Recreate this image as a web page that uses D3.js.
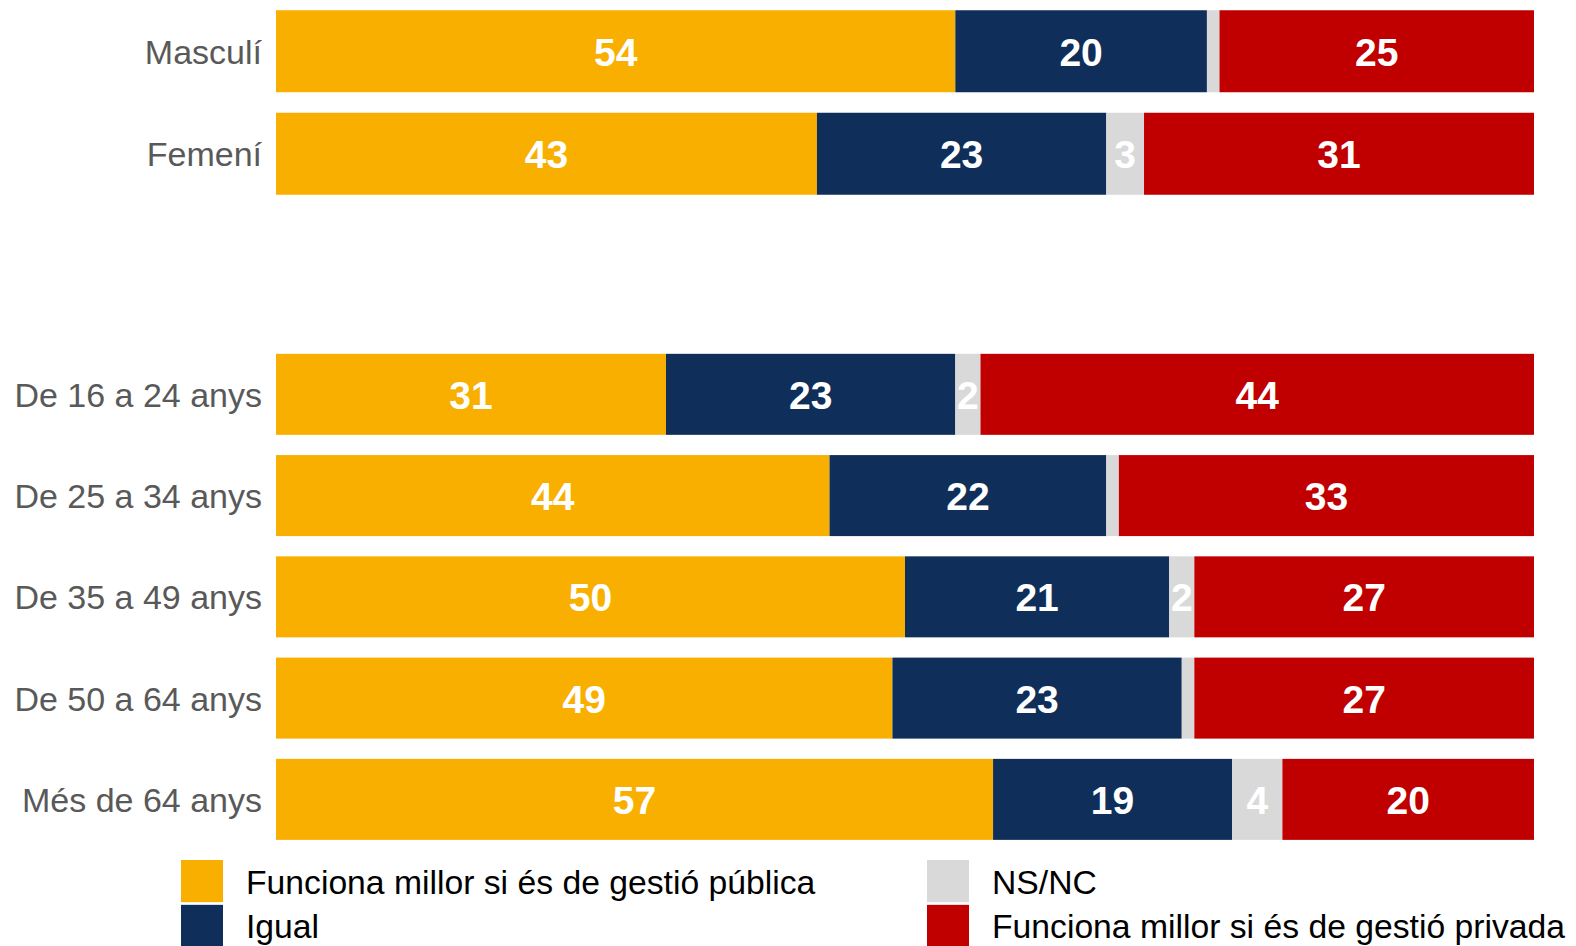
<!DOCTYPE html>
<html>
<head>
<meta charset="utf-8">
<script src="https://cdn.jsdelivr.net/npm/d3@7"></script>
<style>
  html, body { margin: 0; padding: 0; background: #fff; }
  svg { display: block; font-family: "Liberation Sans", Arial, sans-serif; }
</style>
</head>
<body>
<svg id="chart" width="1576" height="946"></svg>
<script>
// Categories (two groups: sex, age)
const genderCats = ["Masculí", "Femení"];
const ageCats = ["De 16 a 24 anys", "De 25 a 34 anys", "De 35 a 49 anys", "De 50 a 64 anys", "Més de 64 anys"];

// Series names (legend order)
const seriesNames = [
  "Funciona millor si és de gestió pública",
  "Igual",
  "NS/NC",
  "Funciona millor si és de gestió privada"
];

// Percentages, in the order: Masculí, Femení, then the age groups
const publica = [54, 43, 31, 44, 50, 49, 57];
const igual   = [20, 23, 23, 22, 21, 23, 19];
const nsnc    = [1, 3, 2, 1, 2, 1, 4];
const privada = [25, 31, 44, 33, 27, 27, 20];

const seriesColors = ["#F9AF00", "#0F2F5A", "#D9D9D9", "#C00000"];

const keys = ["publica", "igual", "nsnc", "privada"];
const allCats = genderCats.concat(ageCats);
const rows = allCats.map((c, i) => ({
  cat: c,
  group: i < genderCats.length ? "gender" : "age",
  publica: publica[i], igual: igual[i], nsnc: nsnc[i], privada: privada[i]
}));

const svg = d3.select("#chart");

const x = d3.scaleLinear().domain([0, 100]).range([276, 1534]);
const yGender = d3.scaleBand().domain(genderCats).range([0, 205]).paddingInner(0.2).paddingOuter(0.1);
const yAge = d3.scaleBand().domain(ageCats).range([343.7, 850]).paddingInner(0.2).paddingOuter(0.1);
const yOf = d => (d.data.group === "gender" ? yGender : yAge);

const color = d3.scaleOrdinal().domain(keys).range(seriesColors);

const stacked = d3.stack().keys(keys)(rows);

// Bars and their value labels, layer by layer
stacked.forEach(layer => {
  const g = svg.append("g").attr("class", "layer-" + layer.key);
  g.selectAll("rect")
    .data(layer)
    .join("rect")
    .attr("x", d => x(d[0]))
    .attr("width", d => x(d[1]) - x(d[0]))
    .attr("y", d => yOf(d)(d.data.cat))
    .attr("height", d => yOf(d).bandwidth())
    .attr("fill", color(layer.key));

  g.selectAll("text")
    .data(layer.filter(d => d[1] - d[0] >= 2))
    .join("text")
    .attr("x", d => x((d[0] + d[1]) / 2))
    .attr("y", d => yOf(d)(d.data.cat) + yOf(d).bandwidth() / 2)
    .attr("dy", "0.37em")
    .attr("text-anchor", "middle")
    .attr("fill", "#fff")
    .attr("font-weight", "bold")
    .attr("font-size", 39)
    .text(d => d[1] - d[0]);
});

// Category axes (labels only)
const axisStyle = sel => {
  sel.select(".domain").remove();
  sel.selectAll(".tick line").remove();
  sel.selectAll(".tick text")
    .attr("font-size", 34)
    .attr("fill", "#595959")
    .attr("dy", "0.37em")
    .attr("font-family", "Liberation Sans, Arial, sans-serif");
};
svg.append("g").attr("transform", "translate(276,0)")
  .call(d3.axisLeft(yGender).tickSize(0).tickPadding(14)).call(axisStyle);
svg.append("g").attr("transform", "translate(276,0)")
  .call(d3.axisLeft(yAge).tickSize(0).tickPadding(14)).call(axisStyle);

// Legend: two columns, two rows
const legendCol = d3.scaleOrdinal().domain([0, 1]).range([181, 927]);
const legendRow = d3.scaleBand().domain([0, 1]).range([860, 947]).paddingInner(0.06);
const legend = svg.append("g").selectAll("g")
  .data(seriesNames)
  .join("g")
  .attr("transform", (d, i) => `translate(${legendCol(Math.floor(i / 2))},${legendRow(i % 2)})`);
legend.append("rect")
  .attr("width", 42)
  .attr("height", legendRow.bandwidth())
  .attr("fill", (d, i) => seriesColors[i]);
legend.append("text")
  .attr("x", 65)
  .attr("y", legendRow.bandwidth() / 2)
  .attr("dy", "0.37em")
  .attr("font-size", 33.7)
  .attr("fill", "#000")
  .text(d => d);
</script>
</body>
</html>
